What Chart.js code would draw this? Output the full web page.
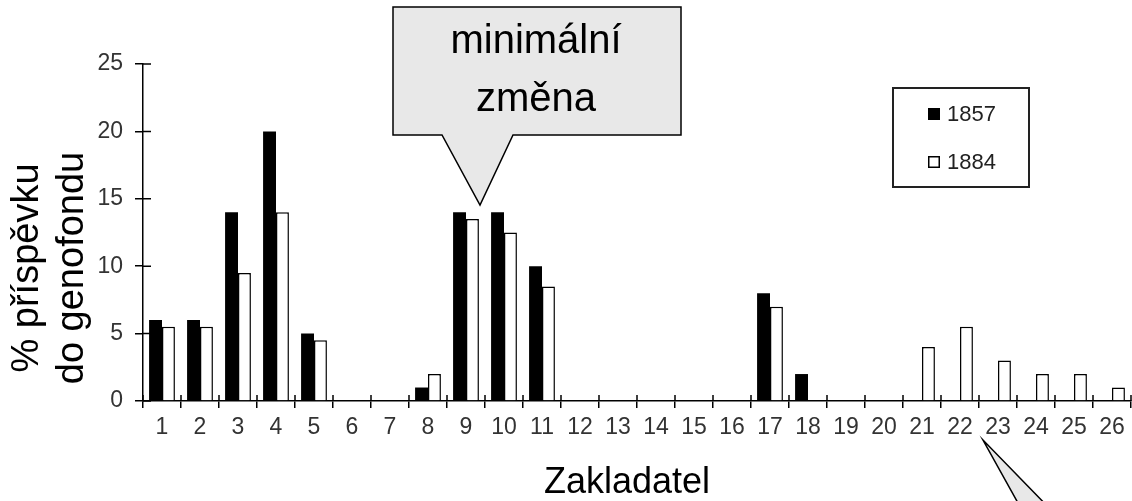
<!DOCTYPE html>
<html lang="cs">
<head>
<meta charset="utf-8">
<title>Příspěvek zakladatelů do genofondu</title>
<script src="https://cdn.jsdelivr.net/npm/chart.js@4.4.1/dist/chart.umd.min.js"></script>
<style>
  html, body { margin: 0; padding: 0; background: #fff; }
  #wrap { position: relative; width: 1132px; height: 501px; overflow: hidden; }
  canvas { display: block; }
</style>
</head>
<body>
<div id="wrap"><canvas id="chart" width="1132" height="501"></canvas></div>
<script>
// zakladatelé (osa x)
const founders = ['1', '2', '3', '4', '5', '6', '7', '8', '9', '10', '11', '12', '13',
    '14', '15', '16', '17', '18', '19', '20', '21', '22', '23', '24', '25', '26'];
// % příspěvku do genofondu
const share1857 = [6, 6, 14, 20, 5, 0, 0, 1, 14, 14, 10, 0, 0, 0, 0, 0, 8, 2, 0, 0, 0, 0, 0, 0, 0, 0];
const share1884 = [5.5, 5.5, 9.5, 14, 4.5, 0, 0, 2, 13.5, 12.5, 8.5, 0, 0, 0, 0, 0, 7, 0, 0, 0, 4, 5.5, 3, 2, 2, 1];
const yTicks = [0, 5, 10, 15, 20, 25];
const seriesNames = ['1857', '1884'];
const yTitle = ['% příspěvku', 'do genofondu'];
const xTitle = 'Zakladatel';
const calloutText = ['minimální', 'změna'];

const FONT = '"Liberation Sans", Arial, Helvetica, sans-serif';

// ticky přes osu - dovnitř grafu
const crossTicks = {
    id: 'crossTicks',
    afterDraw(chart) {
        const { ctx, chartArea, scales: { x, y } } = chart;
        ctx.save();
        ctx.strokeStyle = '#000';
        ctx.lineWidth = 1.5;
        ctx.beginPath();
        yTicks.forEach(v => {
            const py = y.getPixelForValue(v);
            ctx.moveTo(chartArea.left, py);
            ctx.lineTo(chartArea.left + 8, py);
        });
        const step = x.getPixelForValue(1) - x.getPixelForValue(0);
        for (let i = 0; i <= founders.length; i++) {
            const px = x.getPixelForValue(i) - step / 2;
            ctx.moveTo(px, chartArea.bottom);
            ctx.lineTo(px, chartArea.bottom - 6);
        }
        ctx.stroke();
        ctx.restore();
    }
};

// popisky os, legenda a bubliny
const decorations = {
    id: 'decorations',
    afterDraw(chart) {
        const ctx = chart.ctx;
        ctx.save();

        // titulek osy y (dva řádky)
        ctx.fillStyle = '#000';
        ctx.font = '38px ' + FONT;
        ctx.textAlign = 'center';
        ctx.textBaseline = 'middle';
        [28, 73].forEach((cx, i) => {
            ctx.save();
            ctx.translate(cx, 268);
            ctx.rotate(-Math.PI / 2);
            ctx.fillText(yTitle[i], 0, 0);
            ctx.restore();
        });

        // titulek osy x
        ctx.font = '36px ' + FONT;
        ctx.textBaseline = 'alphabetic';
        ctx.fillText(xTitle, 627, 493);

        // legenda
        ctx.lineWidth = 2;
        ctx.strokeStyle = '#222';
        ctx.strokeRect(893, 88, 136, 99);
        ctx.font = '22px ' + FONT;
        ctx.textAlign = 'left';
        ctx.textBaseline = 'middle';
        chart.data.datasets.forEach((ds, i) => {
            const cy = 114 + i * 48;
            ctx.fillStyle = ds.backgroundColor;
            ctx.fillRect(928, cy - 6, 12, 12);
            ctx.lineWidth = 1.5;
            ctx.strokeStyle = '#000';
            ctx.strokeRect(928.75, cy - 5.25, 10.5, 10.5);
            ctx.fillStyle = '#222';
            ctx.fillText(ds.label, 947, cy + 1);
        });

        // bublina "minimální změna"
        ctx.beginPath();
        ctx.moveTo(393, 7);
        ctx.lineTo(681, 7);
        ctx.lineTo(681, 135);
        ctx.lineTo(513, 135);
        ctx.lineTo(480, 205);
        ctx.lineTo(442, 135);
        ctx.lineTo(393, 135);
        ctx.closePath();
        ctx.fillStyle = '#e8e8e8';
        ctx.fill();
        ctx.lineWidth = 1.5;
        ctx.strokeStyle = '#000';
        ctx.stroke();
        ctx.fillStyle = '#000';
        ctx.font = '40px ' + FONT;
        ctx.textAlign = 'center';
        ctx.textBaseline = 'alphabetic';
        ctx.fillText(calloutText[0], 536, 53);
        ctx.fillText(calloutText[1], 536, 111);

        // špička druhé bubliny (dole vpravo)
        ctx.beginPath();
        ctx.moveTo(1023, 512);
        ctx.lineTo(983, 440);
        ctx.lineTo(1053, 512);
        ctx.closePath();
        ctx.fillStyle = '#e8e8e8';
        ctx.fill();
        ctx.beginPath();
        ctx.moveTo(1023, 512);
        ctx.lineTo(983, 440);
        ctx.lineTo(1053, 512);
        ctx.stroke();

        ctx.restore();
    }
};

const ctx = document.getElementById('chart').getContext('2d');
const chart = new Chart(ctx, {
    type: 'bar',
    data: {
        labels: founders,
        datasets: [{
            label: seriesNames[0],
            data: share1857,
            backgroundColor: '#000',
            borderColor: '#000',
            borderWidth: 0,
            categoryPercentage: 0.68,
            barPercentage: 1.0
        }, {
            label: seriesNames[1],
            data: share1884,
            backgroundColor: '#fff',
            borderColor: '#000',
            borderWidth: 1.5,
            categoryPercentage: 0.68,
            barPercentage: 1.0
        }]
    },
    options: {
        responsive: false,
        animation: false,
        layout: { padding: { top: 64, right: 1, left: 0, bottom: 0 } },
        plugins: {
            legend: { display: false },
            tooltip: { enabled: false }
        },
        scales: {
            x: {
                z: 1,
                offset: true,
                border: { color: '#000', width: 1.5 },
                grid: { drawOnChartArea: false, drawTicks: true, tickLength: 7, color: '#000', lineWidth: 1.5, offset: true },
                ticks: { color: '#333', font: { family: FONT, size: 23 }, padding: 6, maxRotation: 0, autoSkip: false },
                afterFit(s) { s.height = 100; }
            },
            y: {
                z: 1,
                min: 0,
                max: 25,
                border: { color: '#000', width: 1.5 },
                grid: { drawOnChartArea: false, tickLength: 8, color: '#000', lineWidth: 1.5 },
                ticks: { stepSize: 5, color: '#333', font: { family: FONT, size: 23 }, padding: 12 },
                afterFit(s) { s.width = 143; }
            }
        }
    },
    plugins: [crossTicks, decorations]
});
</script>
</body>
</html>
